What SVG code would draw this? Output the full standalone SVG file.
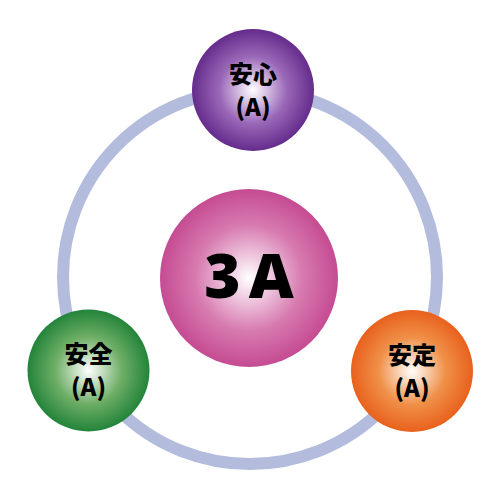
<svg xmlns="http://www.w3.org/2000/svg" width="500" height="500" viewBox="0 0 500 500">
<defs>
<radialGradient id="gPurple" cx="0.5" cy="0.5" r="0.5"><stop offset="0" stop-color="#ffffff"/><stop offset="0.55" stop-color="#9a68b8"/><stop offset="1" stop-color="#652c8c"/></radialGradient>
<radialGradient id="gGreen" cx="0.5" cy="0.5" r="0.5"><stop offset="0" stop-color="#ffffff"/><stop offset="0.55" stop-color="#6eae66"/><stop offset="1" stop-color="#23843a"/></radialGradient>
<radialGradient id="gOrange" cx="0.5" cy="0.5" r="0.5"><stop offset="0" stop-color="#ffffff"/><stop offset="0.55" stop-color="#f09048"/><stop offset="1" stop-color="#e8611c"/></radialGradient>
<radialGradient id="gPink" cx="0.5" cy="0.5" r="0.5"><stop offset="0" stop-color="#ffffff"/><stop offset="0.6" stop-color="#d77ab0"/><stop offset="1" stop-color="#c54b92"/></radialGradient>
<style>
.lbl{font-family:"Noto Sans CJK JP","Noto Sans",sans-serif;font-weight:900;font-size:24px;fill:#000;text-anchor:middle}
.big{font-family:"Noto Sans","DejaVu Sans",sans-serif;font-weight:900;font-size:62px;fill:#000;text-anchor:middle;letter-spacing:8px}
</style>
</defs>
<rect width="500" height="500" fill="#ffffff"/>
<g id="connectors">
<circle cx="250" cy="277" r="187" fill="none" stroke="#b3bcdc" stroke-width="12"/>
</g>
<g id="center">
<circle cx="249" cy="278" r="89" fill="url(#gPink)"/>
<text class="big" x="253" y="298">3A</text>
</g>
<g id="anshin">
<circle cx="253" cy="90" r="61" fill="url(#gPurple)"/>
<text class="lbl" x="253" y="83">安心</text>
<text class="lbl" x="253" y="116">(A)</text>
</g>
<g id="anzen">
<circle cx="88.5" cy="370.5" r="61" fill="url(#gGreen)"/>
<text class="lbl" x="88.5" y="363">安全</text>
<text class="lbl" x="88.5" y="396">(A)</text>
</g>
<g id="antei">
<circle cx="412" cy="371" r="61" fill="url(#gOrange)"/>
<text class="lbl" x="412" y="364">安定</text>
<text class="lbl" x="412" y="397">(A)</text>
</g>
</svg>
